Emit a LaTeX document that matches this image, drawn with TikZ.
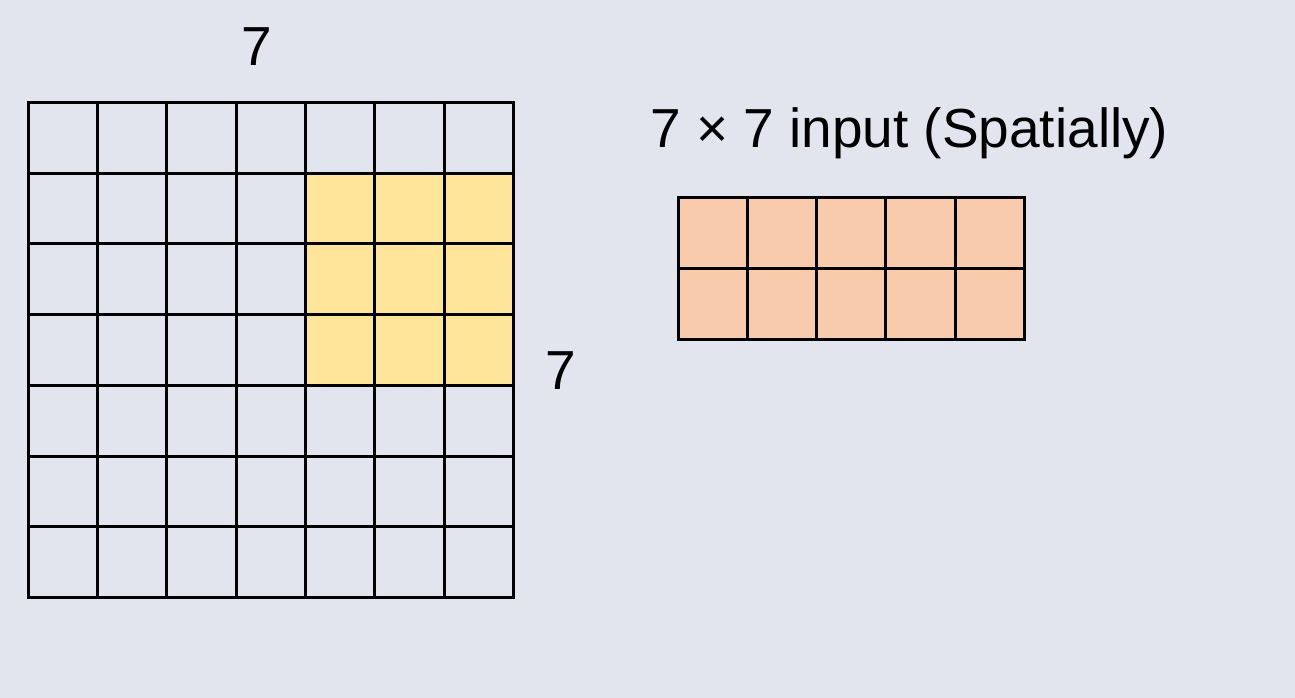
\documentclass[tikz,border=0pt]{standalone}
\usepackage{fontspec}
\setmainfont{Liberation Sans}
\definecolor{bgcol}{HTML}{E2E5ED}
\definecolor{ycell}{HTML}{FFE599}
\definecolor{ocell}{HTML}{F8CBAD}
\begin{document}
\begin{tikzpicture}[x=1pt,y=-1pt,
  gridline/.style={line width=3pt,black},
  lbl/.style={font=\fontsize{55}{60}\selectfont,inner sep=0pt,text=black}]
\fill[bgcol] (0,0) rectangle (1295,698);
\useasboundingbox (0,0) rectangle (1295,698);
% big 7x7 grid
\def\gx{28.3}\def\gy{102.3}\def\cw{69.3}\def\ch{70.77}
\fill[ycell] (\gx+4*\cw,\gy+\ch) rectangle (\gx+7*\cw,\gy+4*\ch);
\foreach \i in {0,...,7}{
  \draw[gridline] (\gx+\i*\cw,\gy) -- (\gx+\i*\cw,\gy+7*\ch);
  \draw[gridline] (\gx,\gy+\i*\ch) -- (\gx+7*\cw,\gy+\i*\ch);
}
\draw[gridline,line cap=rect] (\gx,\gy) rectangle (\gx+7*\cw,\gy+7*\ch);
% orange 5x2 grid
\def\ox{678.3}\def\oy{197.3}\def\ow{69.2}\def\oh{70.85}
\fill[ocell] (\ox,\oy) rectangle (\ox+5*\ow,\oy+2*\oh);
\foreach \i in {0,...,5}{
  \draw[gridline] (\ox+\i*\ow,\oy) -- (\ox+\i*\ow,\oy+2*\oh);
}
\foreach \j in {0,...,2}{
  \draw[gridline] (\ox,\oy+\j*\oh) -- (\ox+5*\ow,\oy+\j*\oh);
}
\draw[gridline,line cap=rect] (\ox,\oy) rectangle (\ox+5*\ow,\oy+2*\oh);
% labels
\node[lbl,anchor=base] (topseven) at (257,66) {7};
\node[lbl,anchor=base] (rightseven) at (561,389) {7};
\node[lbl,anchor=base west] (title) at (650,147) {7 × 7 input (Spatially)};
\end{tikzpicture}
\end{document}
